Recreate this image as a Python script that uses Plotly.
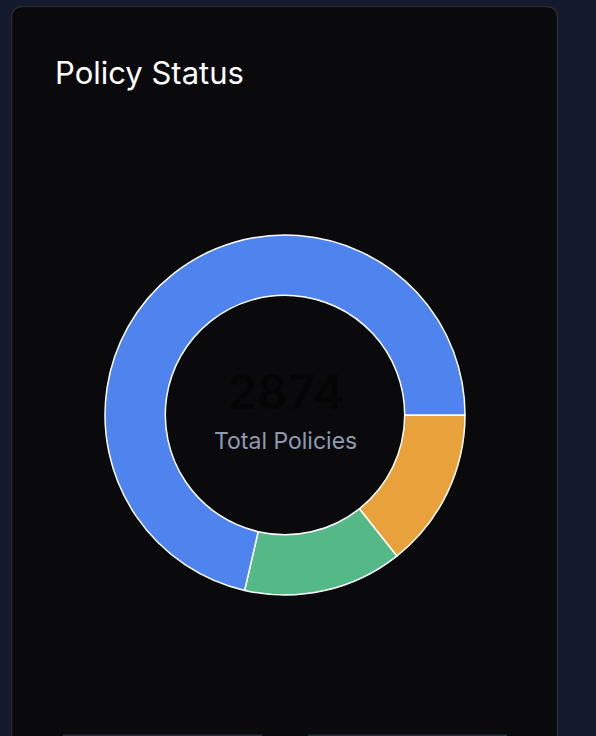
import plotly.graph_objects as go

# ---- data ----
labels = ["Pending", "Expired", "Active"]
values = [412, 410, 2052]
colors = ["#E9A23B", "#54B887", "#4F84EE"]
total_label = "2874"
subtitle = "Total Policies"
title_text = "Policy Status"

W, H = 596, 736

def px(x):
    return x / W

def py(y):
    return 1 - y / H

def rounded_rect(x0, y0, x1, y1, r):
    # pixel coords -> paper path
    pts = [
        f"M {px(x0 + r)} {py(y0)}",
        f"L {px(x1 - r)} {py(y0)}",
        f"Q {px(x1)} {py(y0)} {px(x1)} {py(y0 + r)}",
        f"L {px(x1)} {py(y1 - r)}",
        f"Q {px(x1)} {py(y1)} {px(x1 - r)} {py(y1)}",
        f"L {px(x0 + r)} {py(y1)}",
        f"Q {px(x0)} {py(y1)} {px(x0)} {py(y1 - r)}",
        f"L {px(x0)} {py(y0 + r)}",
        f"Q {px(x0)} {py(y0)} {px(x0 + r)} {py(y0)}",
        "Z",
    ]
    return " ".join(pts)

cx, cy, R = 285, 415, 180

fig = go.Figure()
fig.add_trace(go.Pie(
    labels=labels,
    values=values,
    hole=0.665,
    sort=False,
    direction="clockwise",
    rotation=90,
    marker=dict(colors=colors, line=dict(color="#FFFFFF", width=1.5)),
    textinfo="none",
    hoverinfo="label+value",
    showlegend=False,
    domain=dict(x=[px(cx - R), px(cx + R)], y=[py(cy + R), py(cy - R)]),
))

shapes = [
    dict(type="path", xref="paper", yref="paper",
         path=rounded_rect(11.5, 6.5, 557.5, 760, 12),
         fillcolor="#0A0A0C", line=dict(color="#2A2A2E", width=1.5), layer="below"),
    dict(type="rect", xref="paper", yref="paper",
         x0=px(63), x1=px(262), y0=py(736), y1=py(734.5),
         fillcolor="#252B3A", line=dict(width=0), layer="below"),
    dict(type="rect", xref="paper", yref="paper",
         x0=px(308), x1=px(507), y0=py(736), y1=py(734.5),
         fillcolor="#252B3A", line=dict(width=0), layer="below"),
]

annotations = [
    dict(text=title_text, x=px(53), y=py(72), xref="paper", yref="paper",
         xanchor="left", yanchor="middle", showarrow=False,
         font=dict(family="Inter", size=31, color="#FFFFFF")),
    dict(text=total_label, x=px(cx), y=py(391), xref="paper", yref="paper",
         xanchor="center", yanchor="middle", showarrow=False,
         font=dict(family="Inter", size=48, color="#050505", weight=600)),
    dict(text=subtitle, x=px(cx), y=py(441), xref="paper", yref="paper",
         xanchor="center", yanchor="middle", showarrow=False,
         font=dict(family="Inter", size=23, color="#8E9AB0")),
]

fig.update_layout(
    width=W, height=H,
    margin=dict(l=0, r=0, t=0, b=0),
    paper_bgcolor="#131A2D",
    plot_bgcolor="#131A2D",
    shapes=shapes,
    annotations=annotations,
)

fig.write_html("out.html")
